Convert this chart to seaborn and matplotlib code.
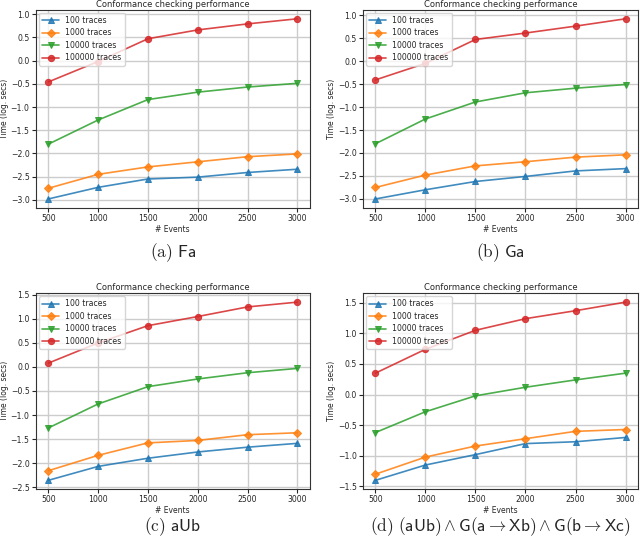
import pandas as pd
import matplotlib
matplotlib.use("Agg")
import matplotlib.pyplot as plt
import seaborn as sns

# x values shared by all four panels
events = [500, 1000, 1500, 2000, 2500, 3000]
trace_labels = ["100 traces", "1000 traces", "10000 traces", "100000 traces"]

# (a) Fa
fa_100 = [-2.98, -2.73, -2.55, -2.51, -2.41, -2.34]
fa_1000 = [-2.75, -2.45, -2.29, -2.18, -2.07, -2.01]
fa_10000 = [-1.80, -1.28, -0.84, -0.68, -0.57, -0.49]
fa_100000 = [-0.46, -0.02, 0.47, 0.66, 0.79, 0.90]

# (b) Ga
ga_100 = [-3.00, -2.80, -2.62, -2.51, -2.39, -2.34]
ga_1000 = [-2.75, -2.48, -2.28, -2.19, -2.09, -2.04]
ga_10000 = [-1.80, -1.26, -0.89, -0.69, -0.59, -0.51]
ga_100000 = [-0.41, -0.05, 0.47, 0.61, 0.76, 0.92]

# (c) aUb
aub_100 = [-2.36, -2.07, -1.90, -1.77, -1.67, -1.59]
aub_1000 = [-2.16, -1.84, -1.58, -1.53, -1.41, -1.37]
aub_10000 = [-1.27, -0.77, -0.41, -0.25, -0.12, -0.03]
aub_100000 = [0.08, 0.50, 0.86, 1.05, 1.25, 1.35]

# (d) (aUb) & G(a -> Xb) & G(b -> Xc)
comb_100 = [-1.40, -1.15, -0.98, -0.80, -0.77, -0.70]
comb_1000 = [-1.30, -1.02, -0.84, -0.72, -0.60, -0.57]
comb_10000 = [-0.62, -0.28, -0.02, 0.12, 0.24, 0.35]
comb_100000 = [0.35, 0.74, 1.05, 1.24, 1.37, 1.51]

captions = [
    r"$\mathrm{(a)}\ \mathsf{Fa}$",
    r"$\mathrm{(b)}\ \mathsf{Ga}$",
    r"$\mathrm{(c)}\ \mathsf{aUb}$",
    r"$\mathrm{(d)}\ (\mathsf{aUb}) \wedge \mathsf{G}(\mathsf{a} \rightarrow \mathsf{Xb})"
    r" \wedge \mathsf{G}(\mathsf{b} \rightarrow \mathsf{Xc})$",
]

panels = [
    [fa_100, fa_1000, fa_10000, fa_100000],
    [ga_100, ga_1000, ga_10000, ga_100000],
    [aub_100, aub_1000, aub_10000, aub_100000],
    [comb_100, comb_1000, comb_10000, comb_100000],
]


def to_long(series_list):
    rows = []
    for label, values in zip(trace_labels, series_list):
        for x, y in zip(events, values):
            rows.append({"events": x, "time": y, "traces": label})
    return pd.DataFrame(rows)


sns.set_style("ticks")
plt.rcParams["mathtext.fontset"] = "cm"
plt.rcParams["font.family"] = ["DejaVu Sans"]

palette = sns.color_palette("tab10", 4)
markers = ["^", "D", "v", "o"]

fig = plt.figure(figsize=(6.4, 5.43), dpi=100)
positions = [
    [0.056, 0.617, 0.428, 0.365],
    [0.567, 0.617, 0.430, 0.365],
    [0.056, 0.099, 0.428, 0.361],
    [0.567, 0.099, 0.430, 0.361],
]
caption_y = [0.534, 0.534, 0.030, 0.030]

for i, series_list in enumerate(panels):
    ax = fig.add_axes(positions[i])
    df = to_long(series_list)
    sns.lineplot(
        data=df, x="events", y="time", hue="traces", style="traces",
        hue_order=trace_labels, style_order=trace_labels,
        palette=palette, markers=markers, dashes=False,
        markersize=4.5, linewidth=1.2, alpha=0.85, ax=ax,
    )
    for line in ax.lines:
        line.set_markeredgecolor(line.get_color())
    ax.grid(True, color="#cccccc", linewidth=1.0)
    ax.set_xticks(events)
    ax.set_title("Conformance checking performance", fontsize=6.0, pad=2)
    ax.set_xlabel("# Events", fontsize=5.5, labelpad=1)
    ax.set_ylabel("Time (log. secs)", fontsize=5.5, labelpad=1)
    ax.tick_params(labelsize=5.6, length=3, pad=1.5)
    for spine in ax.spines.values():
        spine.set_color("#333333")
        spine.set_linewidth(0.8)
    leg = ax.legend(loc="upper left", fontsize=5.6, frameon=True,
                    handlelength=2.2, borderaxespad=0.4, labelspacing=0.45)
    for h in leg.legend_handles:
        h.set_markeredgecolor(h.get_color())
    cx = positions[i][0] + positions[i][2] / 2
    fig.text(cx, caption_y[i], captions[i], ha="center", va="center", fontsize=12.5)

fig.savefig("out.png", dpi=100)
